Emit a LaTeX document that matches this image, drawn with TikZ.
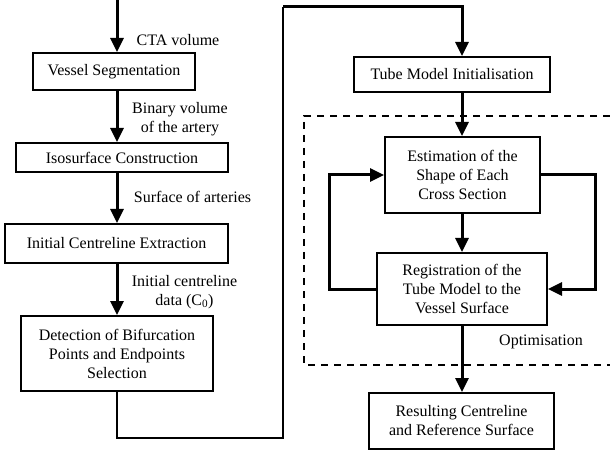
\documentclass[tikz,border=0pt]{standalone}
\usepackage{fontspec}
\setmainfont{Liberation Serif}
\usetikzlibrary{arrows.meta}
\begin{document}
\begin{tikzpicture}[x=1pt, y=-1pt,
            font=\fontsize{16}{19}\selectfont,
            box/.style={draw, line width=2pt, align=center, inner sep=0pt},
            lbl/.style={align=center, inner sep=0pt},
            arr/.style={line width=3pt, -{Triangle[width=13pt,length=14pt]}},
            link/.style={line width=2.6pt},
            region/.style={line width=2pt, dash pattern=on 7pt off 6pt}
            ]
            \useasboundingbox (0,0) rectangle (610,454);

            \coordinate (lcol) at (117,0);
            \coordinate (rcol) at (462,0);
            \coordinate (start) at (117,0);
            \coordinate (jl) at (283,438);
            \coordinate (jt) at (283,7);
            \coordinate (lloop) at (329,0);
            \coordinate (rloop) at (595,0);

            \node[box, minimum width=162pt, minimum height=37pt] (vs) at (114,71.5) {Vessel Segmentation};
            \node[box, minimum width=212pt, minimum height=29pt] (iso) at (122,157.5) {Isosurface Construction};
            \node[box, minimum width=223pt, minimum height=39pt] (ice) at (116.5,243.5) {Initial Centreline Extraction};
            \node[box, minimum width=192pt, minimum height=75pt] (det) at (117,353.5) {Detection of Bifurcation\\Points and Endpoints\\Selection};

            \node[box, minimum width=196pt, minimum height=35pt] (tube) at (452,74.5) {Tube Model Initialisation};
            \node[box, minimum width=155pt, minimum height=76pt] (est) at (462.5,175) {Estimation of the\\Shape of Each\\Cross Section};
            \node[box, minimum width=170pt, minimum height=72pt] (reg) at (462,289) {Registration of the\\Tube Model to the\\Vessel Surface};
            \node[box, minimum width=185pt, minimum height=56pt] (res) at (461.5,421) {Resulting Centreline\\and Reference Surface};

            \node[lbl] (cta) at (178,40) {CTA volume};
            \node[lbl] (bin) at (180,119) {Binary volume\\of the artery};
            \node[lbl] (surf) at (192.5,197) {Surface of arteries};
            \node[lbl] (cinit) at (184.5,292) {Initial centreline\\data (C\textsubscript{0})};
            \node[lbl] (opt) at (541,342) {Optimisation};

            \draw[region] (610,116) -- (304,116) -- (304,365) -- (610,365);

            \draw[arr] (start) -- (vs.north -| lcol);
            \draw[arr] (vs.south -| lcol) -- (iso.north -| lcol);
            \draw[arr] (iso.south -| lcol) -- (ice.north -| lcol);
            \draw[arr] (ice.south -| lcol) -- (det.north -| lcol);
            \draw[link] (det.south -| lcol) |- (jl) -- (jt);
            \draw[arr] (jt) -| (tube.north -| rcol);
            \draw[arr] (tube.south -| rcol) -- (est.north -| rcol);
            \draw[arr] (est.south -| rcol) -- (reg.north -| rcol);
            \draw[arr] (reg.south -| rcol) -- (res.north -| rcol);
            \draw[arr] (reg.west) -- (reg.west -| lloop) -- (est.west -| lloop) -- (est.west);
            \draw[arr] (est.east) -- (est.east -| rloop) -- (reg.east -| rloop) -- (reg.east);

            \end{tikzpicture}
\end{document}
